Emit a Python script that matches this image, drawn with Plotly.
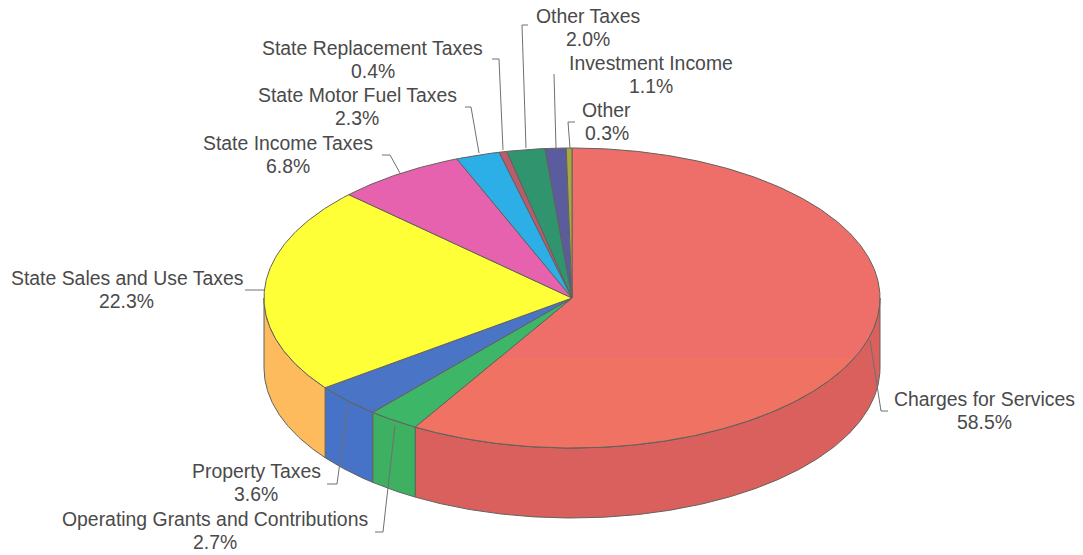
import numpy as np
import plotly.graph_objects as go

# Revenue shares, clockwise from twelve o'clock
categories = ["Charges for Services", "Operating Grants and Contributions", "Property Taxes",
              "State Sales and Use Taxes", "State Income Taxes", "State Motor Fuel Taxes",
              "State Replacement Taxes", "Other Taxes", "Investment Income", "Other"]
shares = [58.5, 2.7, 3.6, 22.3, 6.8, 2.3, 0.4, 2.0, 1.1, 0.3]
top_colors = ["#EE6E6A", "#3DB668", "#4A74C6", "#FFFF38", "#E762AE", "#2CAEE6",
              "#BE5A6E", "#30946E", "#5A5C9E", "#A8A83E"]
wall_colors = ["#D9605C", "#3DB062", "#4672C8", "#FDBB5E", "#E762AE", "#2CAEE6",
               "#BE5A6E", "#30946E", "#5A5C9E", "#A8A83E"]

# Label placement: text centre, then the leader polyline from label to slice
label_xy = [(984, 410), (214.5, 530.5), (256, 482.5), (126.5, 289.5), (288, 154.5), (357, 106.5),
            (372.5, 59.5), (588, 27), (651, 74.5), (606.5, 121.5)]
leaders = [[(888, 411), (881, 411), (870, 340)],
           [(375, 532), (383, 532), (395, 425)],
           [(327, 484), (337, 484), (348, 403)],
           [(245, 290), (264, 290)],
           [(382, 155), (390, 155), (400, 173)],
           [(465, 107), (471, 107), (479, 153)],
           [(492, 59), (499, 59), (503, 150)],
           [(528, 25), (522, 25), (526, 148)],
           [(554, 74), (556, 148)],
           [(575, 122), (568, 122), (570, 148)]]

# Pie geometry in page pixels
CX, CY, RX, RY, DEPTH = 572.0, 298.0, 308.0, 150.0, 70.0
EDGE = "#62625C"
LINE_GAP = 11.5


def rim(a0, a1, drop=0.0):
    t = np.radians(np.linspace(a0, a1, max(int(abs(a1 - a0) * 2), 2)))
    return CX + RX * np.sin(t), CY + drop - RY * np.cos(t)


fig = go.Figure()
ends = np.cumsum(shares) * 3.6
starts = np.concatenate([[0.0], ends[:-1]])

# Outer wall: only the part of the rim facing the viewer (90 to 270 degrees)
for name, a0, a1, col in zip(categories, starts, ends, wall_colors):
    lo, hi = max(a0, 90.0), min(a1, 270.0)
    if lo >= hi:
        continue
    xu, yu = rim(lo, hi)
    xd, yd = rim(hi, lo, DEPTH)
    fig.add_trace(go.Scatter(x=np.r_[xu, xd, xu[0]], y=np.r_[yu, yd, yu[0]], mode="lines",
                             fill="toself", fillcolor=col, line=dict(color=EDGE, width=1),
                             name=name, hoverinfo="name", showlegend=False))

# Top face wedges
for name, a0, a1, col, val in zip(categories, starts, ends, top_colors, shares):
    xr, yr = rim(a0, a1)
    fig.add_trace(go.Scatter(x=np.r_[CX, xr, CX], y=np.r_[CY, yr, CY], mode="lines",
                             fill="toself", fillcolor=col, line=dict(color=EDGE, width=1),
                             name=name, text=f"{val:.1f}%", hoverinfo="name+text", showlegend=False))

# Warmer band across the lower part of the largest wedge
BAND_Y = 358.0
a_band = np.degrees(np.arccos((CY - BAND_Y) / RY))
xb, yb = rim(a_band, ends[0])
xb_in = CX + (BAND_Y - CY) / (yb[-1] - CY) * (xb[-1] - CX)
fig.add_trace(go.Scatter(x=np.r_[xb, xb_in, xb[0]], y=np.r_[yb, BAND_Y, yb[0]], mode="lines",
                         fill="toself", fillcolor="#F07262", line=dict(width=0),
                         hoverinfo="skip", showlegend=False))
fig.add_trace(go.Scatter(x=np.r_[xb, xb_in], y=np.r_[yb, BAND_Y], mode="lines",
                         line=dict(color=EDGE, width=1), hoverinfo="skip", showlegend=False))

# Leader lines
for pts in leaders:
    fig.add_trace(go.Scatter(x=[p[0] for p in pts], y=[p[1] for p in pts], mode="lines",
                             line=dict(color="#707070", width=1), hoverinfo="skip", showlegend=False))

# Two-line labels, value read from the same shares list
label_font = dict(family="Liberation Sans", size=19.4, color="#4A4A4A")
for name, val, (lx, ly) in zip(categories, shares, label_xy):
    fig.add_annotation(x=lx, y=ly - LINE_GAP, text=name, showarrow=False, font=label_font)
    fig.add_annotation(x=lx, y=ly + LINE_GAP, text=f"{val:.1f}%", showarrow=False, font=label_font)

fig.update_layout(width=1083, height=555, margin=dict(l=0, r=0, t=0, b=0),
                  paper_bgcolor="#FFFFFF", plot_bgcolor="#FFFFFF", showlegend=False,
                  xaxis=dict(range=[0, 1083], visible=False, fixedrange=True),
                  yaxis=dict(range=[555, 0], visible=False, fixedrange=True))
fig.write_html("out.html", config={"displayModeBar": False})
